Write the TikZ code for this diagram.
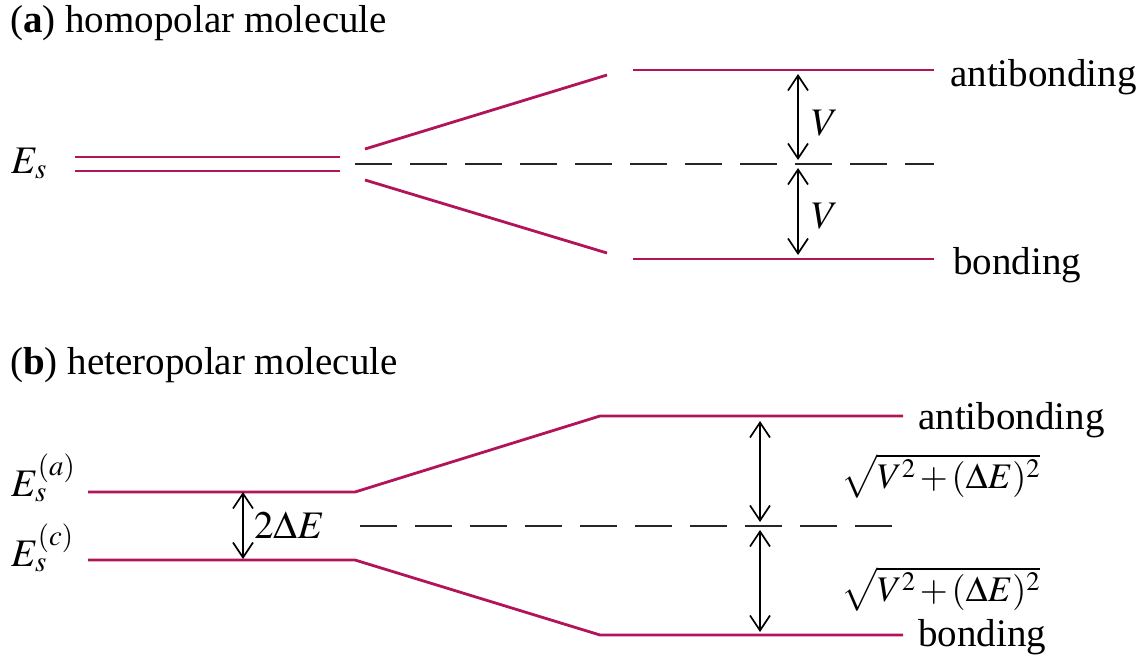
\documentclass[tikz,border=0pt]{standalone}
\usepackage{mathptmx}
\usepackage[no-math]{fontspec}
\setmainfont{Liberation Serif}
\usetikzlibrary{arrows.meta}
\definecolor{lev}{RGB}{178,20,90}
\tikzset{
  level/.style={draw=lev,line width=2.8pt},
  mid/.style={draw=black!85,line width=1.6pt,dash pattern=on 37pt off 18pt},
  gap/.style={draw=black,line width=1.7pt,{Straight Barb[length=15pt,width=20pt,line width=1.7pt]}-{Straight Barb[length=15pt,width=20pt,line width=1.7pt]}},
  lab/.style={inner sep=0pt,font=\fontsize{39}{46}\selectfont},
  rlab/.style={inner sep=0pt,font=\fontsize{36}{43}\selectfont},
}
\newcommand{\rootlab}{$\medmuskip=2mu\sqrt{V^2+(\Delta E)^2}$}
\begin{document}
\begin{tikzpicture}[x=1pt,y=-1pt]
\useasboundingbox (0,0) rectangle (1141,659);
% ---------- (a)
\node[lab,anchor=base west] (ta) at (10,32) {(\textbf{a}) homopolar molecule};
\node[lab,anchor=base west] (Es) at (11,173) {$E_s$};
\coordinate (d1a) at (75,157); \coordinate (d1b) at (340,157);
\coordinate (d2a) at (75,171); \coordinate (d2b) at (340,171);
\draw[level] (d1a) -- (d1b);
\draw[level] (d2a) -- (d2b);
\coordinate (ua) at (365,149); \coordinate (ub) at (607,75);
\coordinate (la) at (365,180); \coordinate (lb) at (607,253);
\draw[level] (ua) -- (ub);
\draw[level] (la) -- (lb);
\coordinate (aa) at (633,70); \coordinate (ab) at (934,70);
\coordinate (ba) at (633,259); \coordinate (bb) at (934,259);
\draw[level] (aa) -- (ab);
\draw[level] (ba) -- (bb);
\coordinate (ma) at (355,164); \coordinate (mb) at (934,164);
\draw[mid] (ma) -- (mb);
\coordinate (v1a) at (798,74); \coordinate (v1b) at (798,160);
\coordinate (v2a) at (798,168); \coordinate (v2b) at (798,255);
\draw[gap] (v1a) -- (v1b);
\draw[gap] (v2a) -- (v2b);
\node[lab,anchor=base west] (V1) at (811,135) {$V$};
\node[lab,anchor=base west] (V2) at (811,228) {$V$};
\node[lab,anchor=base west] (anti) at (950,86) {antibonding};
\node[lab,anchor=base west] (bond) at (953,274) {bonding};
% ---------- (b)
\node[lab,anchor=base west] (tb) at (10,374) {(\textbf{b}) heteropolar molecule};
\node[lab,anchor=base west] (Ea) at (11,496) {$E_s^{(a)}$};
\node[lab,anchor=base west] (Ec) at (11,566) {$E_s^{(c)}$};
\coordinate (p1) at (88,492); \coordinate (p2) at (355,492);
\coordinate (p3) at (600,416); \coordinate (p4) at (903,416);
\coordinate (q1) at (88,560); \coordinate (q2) at (355,560);
\coordinate (q3) at (600,635); \coordinate (q4) at (903,635);
\draw[level,line join=round] (p1) -- (p2) -- (p3) -- (p4);
\draw[level,line join=round] (q1) -- (q2) -- (q3) -- (q4);
\coordinate (e1) at (243,492); \coordinate (e2) at (243,559);
\draw[gap] (e1) -- (e2);
\node[lab,anchor=base west] (dE) at (254,538) {$2\Delta E$};
\coordinate (nb) at (360,526); \coordinate (ne) at (892,526);
\draw[mid] (nb) -- (ne);
\coordinate (s1a) at (760,421); \coordinate (s1b) at (760,522);
\coordinate (s2a) at (760,530); \coordinate (s2b) at (760,632);
\draw[gap] (s1a) -- (s1b);
\draw[gap] (s2a) -- (s2b);
\node[rlab,anchor=base west] (r1) at (841,488) {\rootlab};
\node[rlab,anchor=base west] (r2) at (841,601) {\rootlab};
\node[lab,anchor=base west] (antib) at (918,429) {antibonding};
\node[lab,anchor=base west] (bondb) at (918,646) {bonding};
\end{tikzpicture}
\end{document}
